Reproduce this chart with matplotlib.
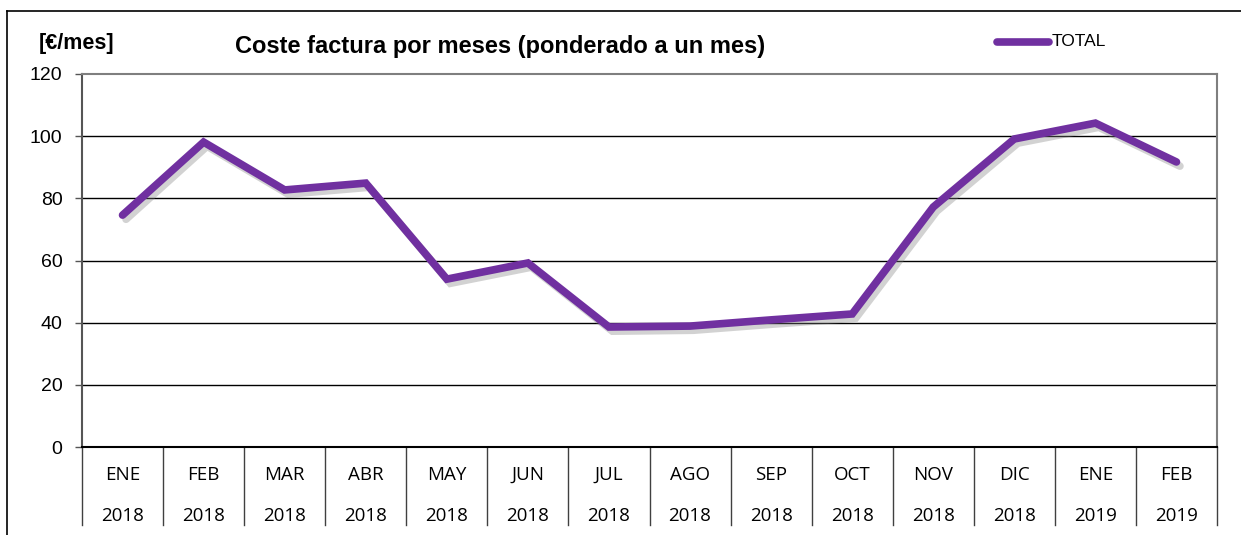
import matplotlib
matplotlib.use("Agg")
import matplotlib.pyplot as plt
import matplotlib.patheffects as pe
from matplotlib.transforms import blended_transform_factory
from matplotlib.lines import Line2D

months = ["ENE", "FEB", "MAR", "ABR", "MAY", "JUN", "JUL", "AGO", "SEP", "OCT", "NOV", "DIC", "ENE", "FEB"]
years = ["2018", "2018", "2018", "2018", "2018", "2018", "2018", "2018", "2018", "2018", "2018", "2018", "2019", "2019"]
total = [74.6, 98.1, 82.7, 84.9, 54.0, 59.2, 38.6, 38.9, 40.9, 42.8, 77.2, 99.1, 104.2, 91.7]
yticks = [0, 20, 40, 60, 80, 100, 120]

W, H = 1241, 535
fig = plt.figure(figsize=(W / 100, H / 100), dpi=100)
ax = fig.add_axes([82 / W, 1 - 447 / H, (1217 - 82) / W, (447 - 74) / H])

n = len(months)
x = list(range(n))
ax.set_xlim(-0.5, n - 0.5)
ax.set_ylim(0, 120)

for v in yticks[1:-1]:
    ax.axhline(v, color="black", lw=1.0, zorder=1)

ax.plot(x, total, color="#7030A0", lw=5.5, solid_capstyle="round", solid_joinstyle="miter", zorder=3,
        path_effects=[pe.SimpleLineShadow(offset=(2.5, -3), shadow_color="gray", alpha=0.35), pe.Normal()])

for s in ["top", "right"]:
    ax.spines[s].set_color("#7f7f7f")
    ax.spines[s].set_linewidth(1.5)
ax.spines["left"].set_color("#555555")
ax.spines["left"].set_linewidth(1.5)
ax.spines["bottom"].set_color("black")
ax.spines["bottom"].set_linewidth(1.5)

ax.set_yticks(yticks)
ax.set_yticklabels([str(v) for v in yticks], fontsize=14, family="Liberation Sans")
ax.tick_params(axis="y", length=5, width=1, color="#555555", pad=9)
ax.set_xticks([])

tr = blended_transform_factory(ax.transData, ax.transAxes)
depth = (525 - 447) / (447 - 74)
for b in range(n + 1):
    ax.plot([b - 0.5, b - 0.5], [0, -depth], transform=tr, color="#404040", lw=1.0, clip_on=False)
for i in range(n):
    ax.text(i, -(475 - 447) / (447 - 74), months[i], transform=tr, ha="center", va="center",
            fontsize=13.5, family="Open Sans")
    ax.text(i, -(516 - 447) / (447 - 74), years[i], transform=tr, ha="center", va="center",
            fontsize=13.5, family="Open Sans")

fig.text(500 / W, 1 - 47 / H, "Coste factura por meses (ponderado a un mes)", ha="center", va="center",
         fontsize=17, fontweight="bold", family="Liberation Sans")
fig.text(77 / W, 1 - 43 / H, "[€/mes]", ha="center", va="center",
         fontsize=15.5, fontweight="bold", family="Liberation Sans")

fig.add_artist(Line2D([997 / W, 1049 / W], [1 - 42 / H, 1 - 42 / H], color="#7030A0", lw=5.5,
                      solid_capstyle="round"))
fig.text(1052 / W, 1 - 42 / H, "TOTAL", ha="left", va="center", fontsize=12.5, family="Liberation Sans")

fig.add_artist(Line2D([7 / W, 1], [1 - 11 / H, 1 - 11 / H], color="black", lw=1.2))
fig.add_artist(Line2D([7 / W, 7 / W], [1 - 11 / H, 0], color="black", lw=1.2))

fig.savefig("out.png", dpi=100)
